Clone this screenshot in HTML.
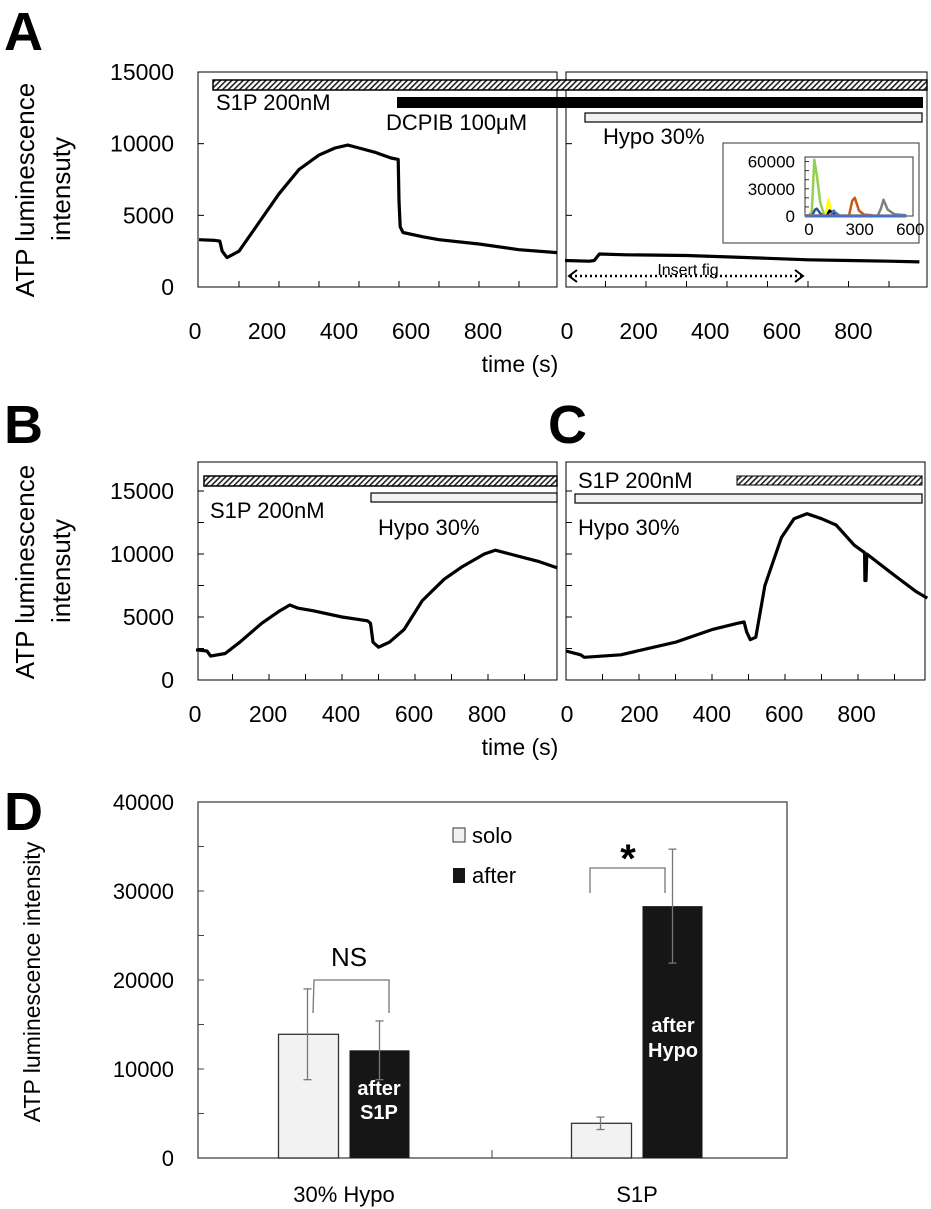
<!DOCTYPE html>
<html><head><meta charset="utf-8"><style>
html,body{margin:0;padding:0;background:#fff;}
svg{display:block;font-family:"Liberation Sans",Arial,sans-serif;}
</style></head><body>
<svg id="fig" width="931" height="1209" viewBox="0 0 931 1209" xmlns="http://www.w3.org/2000/svg">
<defs>
<pattern id="hatch" width="4" height="4" patternUnits="userSpaceOnUse" patternTransform="rotate(45)">
<rect width="4" height="4" fill="#fff"/><rect width="1.6" height="4" fill="#222"/>
</pattern>
</defs>
<g id="root"></g>
</svg>
<script>
// ---------- Panel A data ----------
const aLeftT = [0,40,52,58,70,100,150,200,250,300,340,372,400,440,480,498,500,503,510,560,600,700,800,895];
const aLeftV = [3300,3250,3200,2500,2050,2500,4500,6500,8200,9200,9700,9900,9700,9400,9000,8900,6000,4200,3800,3500,3300,3000,2600,2400];
const aRightT = [0,60,72,85,150,300,400,500,600,700,800,875];
const aRightV = [1850,1800,1850,2300,2250,2200,2100,2000,1900,1850,1800,1750];
const aYTicks = [0,5000,10000,15000];
const aXTicks = [0,200,400,600,800];
// inset
const insetYTicks = [0,30000,60000];
const insetXTicks = [0,300,600];
const insetSeries = [
 {name:'green', color:'#92d050', t:[20,40,55,70,90,110,140,200], v:[0,5000,62000,45000,15000,3000,1000,500]},
 {name:'darkblue', color:'#2f5597', t:[40,60,70,90,110], v:[0,7000,8000,3000,0]},
 {name:'yellow', color:'#ffff00', t:[120,140,150,165,190], v:[0,18000,8000,3000,0]},
 {name:'black', color:'#000', t:[130,145,160,180], v:[0,6000,4000,0]},
 {name:'blue2', color:'#4472c4', t:[150,170,185,210], v:[0,6000,3000,0]},
 {name:'brown', color:'#c55a11', t:[260,280,295,320,350,400], v:[0,17000,20000,6000,1500,800]},
 {name:'gray', color:'#7f7f7f', t:[430,450,465,490,530,600], v:[0,8000,18000,7000,2000,800]},
 {name:'orange', color:'#ed7d31', t:[0,100,300,600], v:[800,600,500,400]},
 {name:'baseline', color:'#4472c4', t:[0,600], v:[0,0]}
];
// ---------- Panel B/C data ----------
const bT = [0,30,40,80,120,180,230,257,280,320,400,470,478,485,500,530,570,620,680,730,790,820,860,900,940,990];
const bV = [2400,2300,1900,2100,3000,4500,5500,5950,5700,5500,5000,4700,4500,3000,2600,3000,4000,6300,8000,9000,10000,10300,10000,9700,9400,8900];
const cT = [0,40,50,150,300,400,470,488,495,505,520,545,590,625,660,700,740,790,818,819,822,824,900,960,990];
const cV = [2300,2000,1800,2000,3000,4000,4500,4600,3800,3200,3400,7500,11300,12800,13200,12800,12300,10700,10100,7900,7900,10000,8300,7000,6500];
const bYTicks = [0,5000,10000,15000];
const bXTicks = [0,200,400,600,800];
// ---------- Panel D data ----------
const dCats = ['30% Hypo','S1P'];
const dSolo = [13900,3900];
const dSoloErr = [5100,700];
const dAfter = [12100,28300];
const dAfterErr = [3300,6400];
const dYTicks = [0,10000,20000,30000,40000];

const NS='http://www.w3.org/2000/svg';
const root=document.getElementById('root');
function el(tag,attrs,parent,text){const e=document.createElementNS(NS,tag);for(const k in attrs)e.setAttribute(k,attrs[k]);if(text!==undefined)e.textContent=text;(parent||root).appendChild(e);return e;}
function pts(ts,vs,sx,sy){return ts.map((t,i)=>sx(t).toFixed(1)+','+sy(vs[i]).toFixed(1)).join(' ');}

// ===== Panel A =====
const gA=el('g',{});


let t=el('text',{x:4,y:50,'font-size':54,'font-weight':'bold'},gA,'A');

const ayA=v=>287-v*(215/15000);
const axL=s=>199+s*0.4, axR=s=>565+s*0.405;
const lblL=s=>195+s*0.36, lblR=s=>567+s*0.358;
let f=el('rect',{x:198,y:72,width:359,height:215,fill:'none',stroke:'#000','stroke-width':1},gA);

f=el('rect',{x:566,y:72,width:361,height:215,fill:'none',stroke:'#000','stroke-width':1},gA);

aYTicks.forEach(v=>{
 el('line',{x1:198,x2:204,y1:ayA(v),y2:ayA(v),stroke:'#000'},gA);
 el('line',{x1:566,x2:572,y1:ayA(v),y2:ayA(v),stroke:'#000'},gA);
 const tx=el('text',{x:174,y:ayA(v)+8,'font-size':23,'text-anchor':'end'},gA,v);
 
});
for(let s=100;s<900;s+=100){el('line',{x1:axL(s),x2:axL(s),y1:287,y2:281,stroke:'#000'},gA);el('line',{x1:axR(s),x2:axR(s),y1:287,y2:281,stroke:'#000'},gA);}
aXTicks.forEach(s=>{
 let a=el('text',{x:lblL(s),y:339,'font-size':23,'text-anchor':'middle'},gA,s);
 
 a=el('text',{x:lblR(s),y:339,'font-size':23,'text-anchor':'middle'},gA,s);
 
});
t=el('text',{x:520,y:372,'font-size':23,'text-anchor':'middle'},gA,'time (s)');

t=el('text',{x:0,y:0,'font-size':26,'text-anchor':'middle',transform:'translate(34,190) rotate(-90)'},gA,'ATP luminescence');

t=el('text',{x:0,y:0,'font-size':26,'text-anchor':'middle',transform:'translate(70,189) rotate(-90)'},gA,'intensuty');

let b=el('rect',{x:213,y:80,width:714,height:10,fill:'url(#hatch)',stroke:'#000','stroke-width':1.5},gA);

b=el('rect',{x:397,y:97,width:526,height:11,fill:'#000'},gA);

b=el('rect',{x:585,y:113,width:337,height:9,fill:'#f2f2f2',stroke:'#000','stroke-width':1.2},gA);

t=el('text',{x:216,y:110,'font-size':22},gA,'S1P 200nM');
t=el('text',{x:386,y:130,'font-size':22},gA,'DCPIB 100μM');
t=el('text',{x:603,y:144,'font-size':22},gA,'Hypo 30%');
let p=el('polyline',{points:pts(aLeftT,aLeftV,axL,ayA),fill:'none',stroke:'#000','stroke-width':3.2,'stroke-linejoin':'round'},gA);

p=el('polyline',{points:pts(aRightT,aRightV,axR,ayA),fill:'none',stroke:'#000','stroke-width':3.2,'stroke-linejoin':'round'},gA);

let ar=el('line',{x1:570,x2:802,y1:276,y2:276,stroke:'#000','stroke-width':2.5,'stroke-dasharray':'2,3'},gA);

el('polyline',{points:'577,270 569,276 577,282',fill:'none',stroke:'#000','stroke-width':2},gA);
el('polyline',{points:'795,270 803,276 795,282',fill:'none',stroke:'#000','stroke-width':2},gA);
el('rect',{x:652,y:260,width:72,height:12,fill:'#fff'},gA);
t=el('text',{x:688,y:275,'font-size':16,'text-anchor':'middle'},gA,'Insert fig');
const gI=el('g',{},gA);

el('rect',{x:723,y:143,width:196,height:100,fill:'#fff',stroke:'#333','stroke-width':1},gI);
const ix=s=>805+s*(108/640), iy=v=>216-v*(59/65000);
el('rect',{x:805,y:157,width:108,height:59,fill:'#fff',stroke:'#333','stroke-width':1},gI);
insetYTicks.forEach(v=>{const x=el('text',{x:795,y:iy(v)+6,'font-size':17,'text-anchor':'end'},gI,v);});
for(let v=10000;v<=60000;v+=10000)el('line',{x1:805,x2:809,y1:iy(v),y2:iy(v),stroke:'#333'},gI);
insetXTicks.forEach(s=>{const x=el('text',{x:ix(s)+4,y:235,'font-size':17,'text-anchor':'middle'},gI,s);});
insetSeries.forEach(sr=>{
 const q=el('polyline',{points:pts(sr.t,sr.v,ix,iy),fill:'none',stroke:sr.color,'stroke-width':sr.name==='baseline'?3:2.5,'stroke-linejoin':'round'},gI);
 
});

// ===== Panels B & C =====
const gB=el('g',{});

t=el('text',{x:4,y:443,'font-size':54,'font-weight':'bold'},gB,'B');
t=el('text',{x:548,y:443,'font-size':54,'font-weight':'bold'},gB,'C');
const byB=v=>680-v*(63/5000);
const bxL=s=>196+s*0.365, bxR=s=>566+s*0.365;
f=el('rect',{x:198,y:462,width:359,height:218,fill:'none',stroke:'#000'},gB);
f=el('rect',{x:566,y:462,width:359,height:218,fill:'none',stroke:'#000'},gB);
bYTicks.forEach(v=>{
 const tx=el('text',{x:174,y:byB(v)+8,'font-size':23,'text-anchor':'end'},gB,v);
 
});
for(let v=2500;v<=15000;v+=2500){el('line',{x1:198,x2:204,y1:byB(v),y2:byB(v),stroke:'#000'},gB);el('line',{x1:566,x2:572,y1:byB(v),y2:byB(v),stroke:'#000'},gB);}
for(let s=100;s<1000;s+=100){el('line',{x1:bxL(s),x2:bxL(s),y1:680,y2:674,stroke:'#000'},gB);el('line',{x1:bxR(s),x2:bxR(s),y1:680,y2:674,stroke:'#000'},gB);}
bXTicks.forEach(s=>{
 let a=el('text',{x:195+s*0.365,y:722,'font-size':23,'text-anchor':'middle'},gB,s);
 a=el('text',{x:567+s*0.362,y:722,'font-size':23,'text-anchor':'middle'},gB,s);
});
t=el('text',{x:520,y:755,'font-size':23,'text-anchor':'middle'},gB,'time (s)');
t=el('text',{x:0,y:0,'font-size':26,'text-anchor':'middle',transform:'translate(34,572) rotate(-90)'},gB,'ATP luminescence');
t=el('text',{x:0,y:0,'font-size':26,'text-anchor':'middle',transform:'translate(70,571) rotate(-90)'},gB,'intensuty');
b=el('rect',{x:204,y:476,width:353,height:10,fill:'url(#hatch)',stroke:'#000','stroke-width':1.5},gB);
b=el('rect',{x:371,y:493,width:186,height:9,fill:'#f2f2f2',stroke:'#000','stroke-width':1.2},gB);
t=el('text',{x:210,y:518,'font-size':22},gB,'S1P 200nM');
t=el('text',{x:378,y:535,'font-size':22},gB,'Hypo 30%');
b=el('rect',{x:737,y:476,width:185,height:9,fill:'url(#hatch)',stroke:'#000','stroke-width':1},gB);
b=el('rect',{x:575,y:494,width:347,height:9,fill:'#f2f2f2',stroke:'#000','stroke-width':1.2},gB);
t=el('text',{x:578,y:488,'font-size':22},gB,'S1P 200nM');
t=el('text',{x:578,y:535,'font-size':22},gB,'Hypo 30%');
p=el('polyline',{points:pts(bT,bV,bxL,byB),fill:'none',stroke:'#000','stroke-width':3.2,'stroke-linejoin':'round'},gB);
p=el('polyline',{points:pts(cT,cV,bxR,byB),fill:'none',stroke:'#000','stroke-width':3.2,'stroke-linejoin':'round'},gB);

// ===== Panel D =====
const gD=el('g',{});

t=el('text',{x:4,y:830,'font-size':54,'font-weight':'bold'},gD,'D');
const dy=v=>1158-v*(356/40000);
const groupCenter=[344,637];
f=el('rect',{x:198,y:802,width:589,height:356,fill:'none',stroke:'#444','stroke-width':1.3},gD);
for(let v=5000;v<40000;v+=5000)el('line',{x1:198,x2:204,y1:dy(v),y2:dy(v),stroke:'#444'},gD);
el('line',{x1:492,x2:492,y1:1158,y2:1150,stroke:'#444'},gD);
dYTicks.forEach(v=>{const tx=el('text',{x:174,y:dy(v)+8,'font-size':22,'text-anchor':'end'},gD,v);});
t=el('text',{x:0,y:0,'font-size':23,'text-anchor':'middle',transform:'translate(40,982) rotate(-90)'},gD,'ATP luminescence intensity');
const bw=60, gap=11;
dCats.forEach((c,i)=>{
 const cx=groupCenter[i];
 const x1=cx-gap/2-bw, x2=cx+gap/2;
 let r=el('rect',{x:x1,y:dy(dSolo[i]),width:bw,height:1158-dy(dSolo[i]),fill:'#f2f2f2',stroke:'#333','stroke-width':1.3},gD);
 
 r=el('rect',{x:x2,y:dy(dAfter[i]),width:bw,height:1158-dy(dAfter[i]),fill:'#161616'},gD);
 
 [[x1+bw/2-1,dSolo[i],dSoloErr[i]],[x2+bw/2,dAfter[i],dAfterErr[i]]].forEach(([ex,v,e])=>{
  const g=el('g',{stroke:'#777','stroke-width':1.3},gD);
  
  el('line',{x1:ex,x2:ex,y1:dy(v+e),y2:dy(v-e)},g);
  el('line',{x1:ex-4,x2:ex+4,y1:dy(v+e),y2:dy(v+e)},g);
  el('line',{x1:ex-4,x2:ex+4,y1:dy(v-e),y2:dy(v-e)},g);
 });
 const lx=el('text',{x:cx,y:1202,'font-size':22,'text-anchor':'middle'},gD,c);
 
});
t=el('text',{x:379,y:1095,'font-size':20,'font-weight':'bold',fill:'#fff','text-anchor':'middle'},gD,'after');
t=el('text',{x:379,y:1119,'font-size':20,'font-weight':'bold',fill:'#fff','text-anchor':'middle'},gD,'S1P');
t=el('text',{x:673,y:1032,'font-size':20,'font-weight':'bold',fill:'#fff','text-anchor':'middle'},gD,'after');
t=el('text',{x:673,y:1057,'font-size':20,'font-weight':'bold',fill:'#fff','text-anchor':'middle'},gD,'Hypo');
let br=el('polyline',{points:'313,1013 314,980 389,980 389,1013',fill:'none',stroke:'#777','stroke-width':1.3},gD);
t=el('text',{x:349,y:966,'font-size':26,'text-anchor':'middle'},gD,'NS');
br=el('polyline',{points:'590,893 590,868 665,868 665,893',fill:'none',stroke:'#777','stroke-width':1.3},gD);
t=el('text',{x:628,y:872,'font-size':40,'font-weight':'bold','text-anchor':'middle'},gD,'*');
let lg=el('g',{},gD);
let le=el('rect',{x:453,y:828,width:12,height:14,fill:'#f2f2f2',stroke:'#333'},lg);
le=el('text',{x:472,y:843,'font-size':22},lg,'solo');
le=el('rect',{x:453,y:868,width:12,height:15,fill:'#161616'},lg);
le=el('text',{x:472,y:883,'font-size':22},lg,'after');
</script>
</body></html>
